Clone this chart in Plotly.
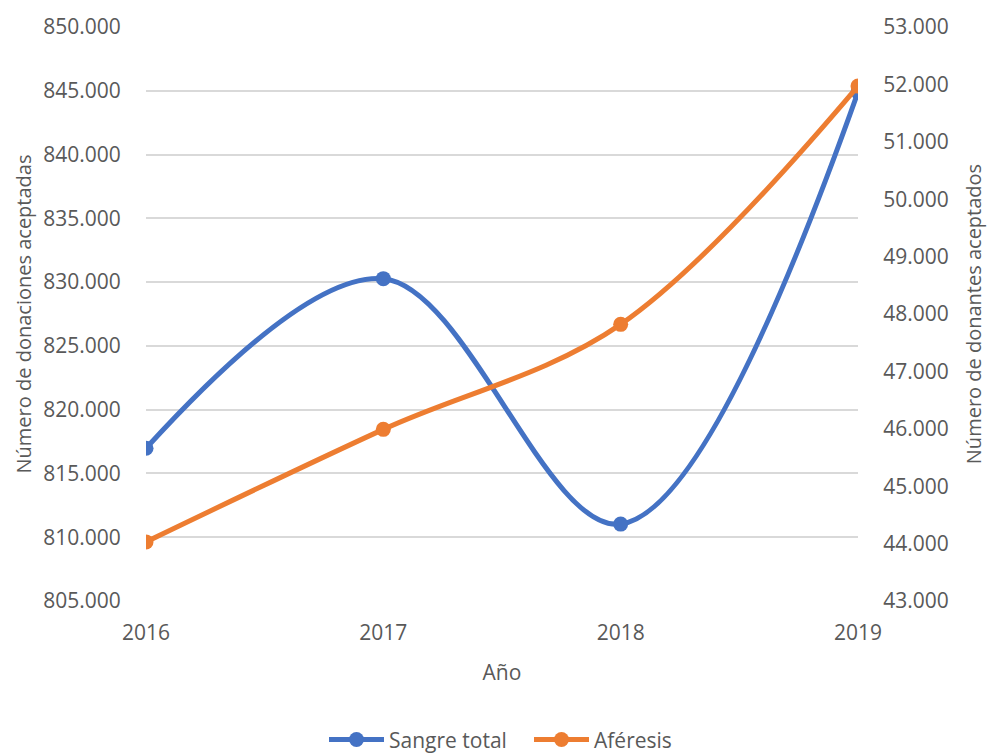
import plotly.graph_objects as go

years = [2016, 2017, 2018, 2019]
sangre_total = [816970, 830270, 811030, 844900]
aferesis = [44030, 45990, 47820, 51970]

FONT = "Open Sans"
GRAY = "#595959"

fig = go.Figure()
fig.add_trace(go.Scatter(
    x=years, y=sangre_total, name="Sangre total", mode="lines+markers",
    line=dict(color="#4472C4", width=5, shape="spline", smoothing=1.0),
    marker=dict(size=15, color="#4472C4"), yaxis="y"))
fig.add_trace(go.Scatter(
    x=years, y=aferesis, name="Aféresis", mode="lines+markers",
    line=dict(color="#ED7D31", width=5, shape="spline", smoothing=1.0),
    marker=dict(size=15, color="#ED7D31"), yaxis="y2"))

fig.update_layout(
    width=989, height=754,
    margin=dict(l=146, r=131, t=27, b=153, autoexpand=False),
    paper_bgcolor="white", plot_bgcolor="white",
    separators=",.",
    font=dict(family=FONT, size=21, color=GRAY),
    showlegend=True,
    legend=dict(orientation="h", x=0.25, xanchor="left", y=-0.242, yanchor="middle",
                font=dict(size=21, color=GRAY), itemwidth=55, entrywidth=135),
    xaxis=dict(
        range=[2016, 2019], tickvals=years, ticktext=[str(y) for y in years],
        showgrid=False, zeroline=False, showline=False,
        ticks="outside", ticklen=13, tickcolor="rgba(0,0,0,0)",
        title=dict(text="Año", standoff=20, font=dict(size=21, color=GRAY)),
        automargin=False, fixedrange=True),
    yaxis=dict(
        range=[805000, 850000], dtick=5000, tickformat=",d",
        showgrid=True, gridcolor="#D9D9D9", gridwidth=1.5, zeroline=False, showline=False,
        ticks="outside", ticklen=20, tickcolor="rgba(0,0,0,0)",
        title=dict(text="Número de donaciones aceptadas", standoff=6,
                   font=dict(size=20, color=GRAY)),
        automargin=False),
    yaxis2=dict(
        range=[43000, 53000], dtick=1000, tickformat=",d", overlaying="y", side="right",
        showgrid=False, zeroline=False, showline=False,
        ticks="outside", ticklen=20, tickcolor="rgba(0,0,0,0)",
        title=dict(text="Número de donantes aceptados", standoff=19,
                   font=dict(size=20, color=GRAY)),
        automargin=False),
)

fig.write_html("out.html", config={"displayModeBar": False},
               post_script="document.body.style.margin='0';document.body.style.overflow='hidden';")
